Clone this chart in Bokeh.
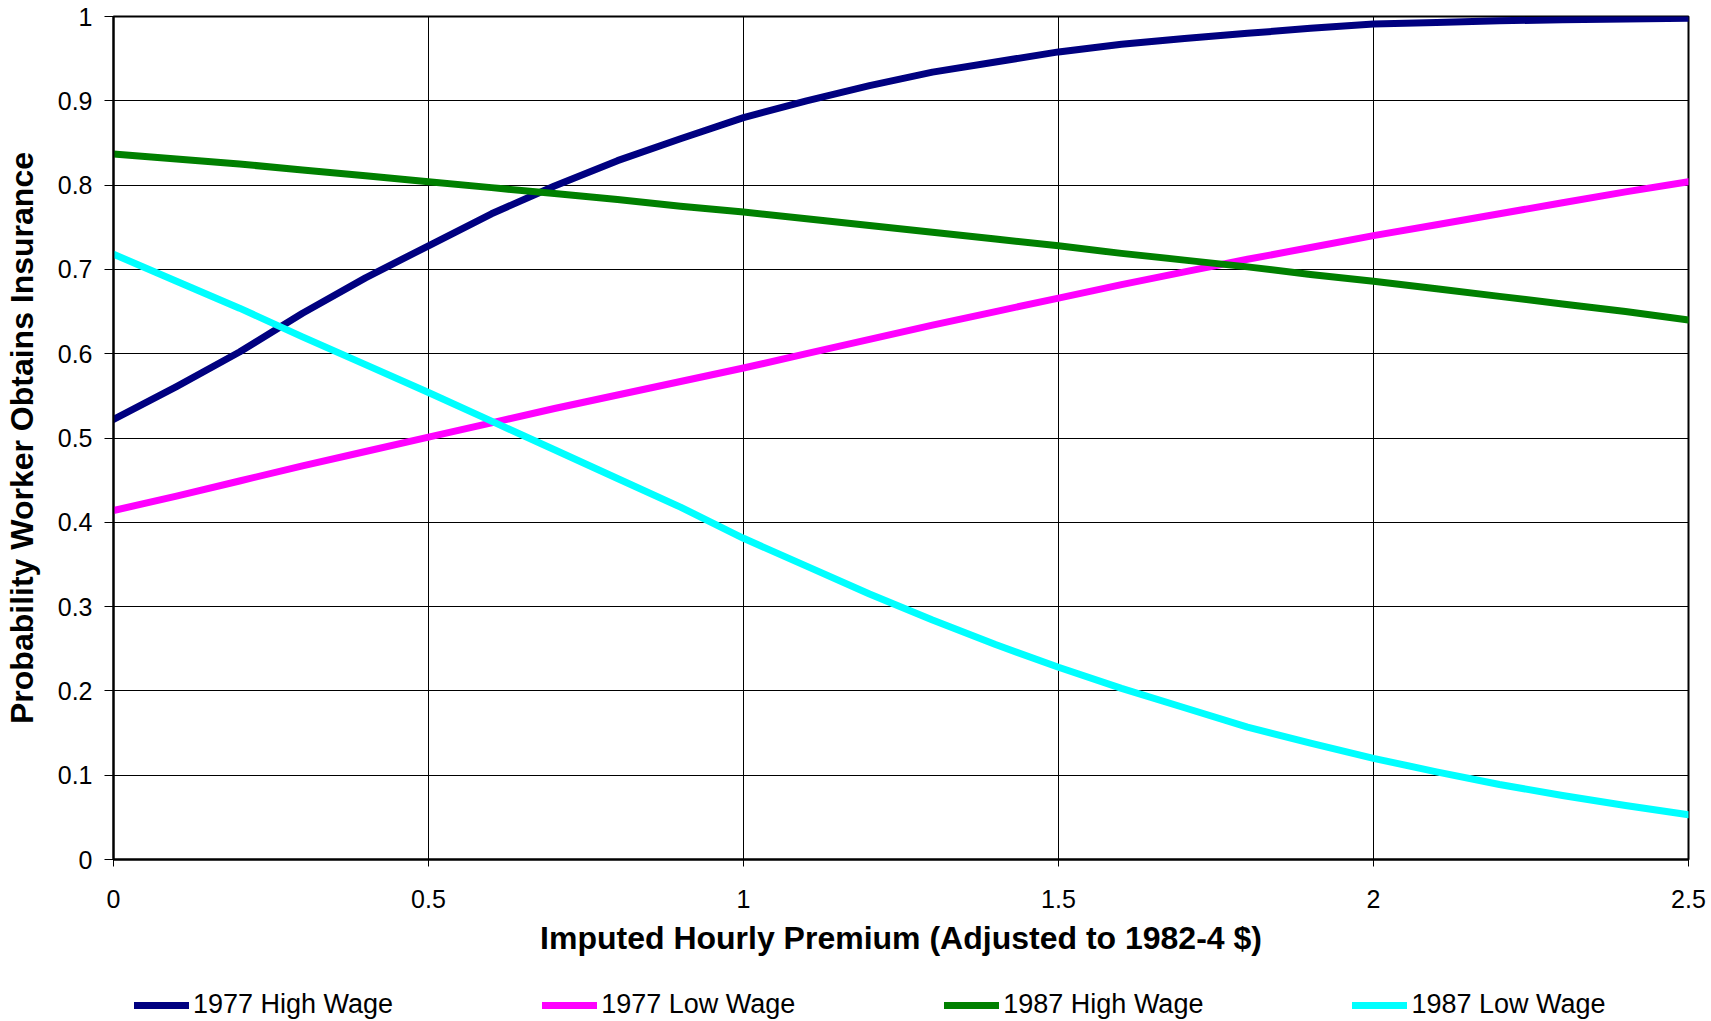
from bokeh.plotting import figure
from bokeh.layouts import column
from bokeh.models import Range1d, FixedTicker, Legend, LegendItem
from bokeh.embed import file_html
from bokeh.resources import INLINE

# ---- data ----
premium = [0.0, 0.1, 0.2, 0.3, 0.4, 0.5, 0.6, 0.7, 0.8, 0.9, 1.0, 1.1, 1.2,
           1.3, 1.4, 1.5, 1.6, 1.7, 1.8, 1.9, 2.0, 2.1, 2.2, 2.3, 2.4, 2.5]

high_wage_1977 = [0.522, 0.561, 0.602, 0.648, 0.690, 0.728, 0.766, 0.799, 0.829,
                  0.855, 0.880, 0.900, 0.918, 0.934, 0.946, 0.958, 0.967, 0.974,
                  0.980, 0.986, 0.991, 0.993, 0.995, 0.996, 0.997, 0.998]

low_wage_1977 = [0.414, 0.431, 0.449, 0.467, 0.484, 0.501, 0.518, 0.535, 0.551,
                 0.567, 0.583, 0.600, 0.617, 0.634, 0.650, 0.666, 0.682, 0.697,
                 0.712, 0.726, 0.740, 0.753, 0.766, 0.779, 0.792, 0.804]

high_wage_1987 = [0.837, 0.831, 0.825, 0.818, 0.811, 0.804, 0.797, 0.790, 0.783,
                  0.775, 0.768, 0.760, 0.752, 0.744, 0.736, 0.728, 0.719, 0.711,
                  0.703, 0.694, 0.686, 0.677, 0.668, 0.659, 0.650, 0.640]

low_wage_1987 = [0.718, 0.686, 0.654, 0.620, 0.587, 0.554, 0.520, 0.486, 0.452,
                 0.418, 0.381, 0.348, 0.315, 0.284, 0.255, 0.228, 0.203, 0.180,
                 0.157, 0.138, 0.120, 0.104, 0.089, 0.076, 0.064, 0.053]

series_names = ["1977 High Wage", "1977 Low Wage", "1987 High Wage", "1987 Low Wage"]
series_values = [high_wage_1977, low_wage_1977, high_wage_1987, low_wage_1987]
series_colors = ["#000080", "#FF00FF", "#008000", "#00FFFF"]

x_ticks = [0, 0.5, 1, 1.5, 2, 2.5]
x_tick_labels = ["0", "0.5", "1", "1.5", "2", "2.5"]
y_ticks = [0, 0.1, 0.2, 0.3, 0.4, 0.5, 0.6, 0.7, 0.8, 0.9, 1]
y_tick_labels = ["0", "0.1", "0.2", "0.3", "0.4", "0.5", "0.6", "0.7", "0.8", "0.9", "1"]

x_title = "Imputed Hourly Premium (Adjusted to 1982-4 $)"
y_title = "Probability Worker Obtains Insurance"

FONT = "Liberation Sans"
W = 1711
MAIN_H = 970
LEG_H = 51

p = figure(width=W, height=MAIN_H,
           x_range=Range1d(0, 2.5), y_range=Range1d(0, 1),
           output_backend="svg", toolbar_location=None,
           min_border_left=113, min_border_right=23,
           min_border_top=16, min_border_bottom=MAIN_H - 859,
           background_fill_color="white", border_fill_color="white")

p.outline_line_color = "black"
p.outline_line_width = 2

# grid
p.xgrid.ticker = FixedTicker(ticks=x_ticks)
p.ygrid.ticker = FixedTicker(ticks=y_ticks)
for g in (p.xgrid, p.ygrid):
    g.grid_line_color = "black"
    g.grid_line_width = 1

# axes
p.xaxis.ticker = FixedTicker(ticks=x_ticks)
p.xaxis.major_label_overrides = {t: l for t, l in zip(x_ticks, x_tick_labels)}
p.yaxis.ticker = FixedTicker(ticks=y_ticks)
p.yaxis.major_label_overrides = {t: l for t, l in zip(y_ticks, y_tick_labels)}

for ax in (p.xaxis[0], p.yaxis[0]):
    ax.axis_line_color = "black"
    ax.axis_line_width = 2
    ax.major_tick_line_color = "black"
    ax.major_tick_line_width = 1
    ax.major_tick_in = 0
    ax.minor_tick_line_color = None
    ax.major_label_text_font = FONT
    ax.major_label_text_font_size = "25px"
    ax.major_label_text_color = "black"
    ax.axis_label_text_font = FONT
    ax.axis_label_text_font_size = "32px"
    ax.axis_label_text_font_style = "bold"
    ax.axis_label_text_color = "black"

p.xaxis.axis_label = x_title
p.yaxis.axis_label = y_title
p.xaxis.major_tick_out = 7
p.yaxis.major_tick_out = 9
p.xaxis.major_label_standoff = 23
p.yaxis.major_label_standoff = 12
p.xaxis.axis_label_standoff = 9
p.yaxis.axis_label_standoff = 15

# lines
for name, vals, col in zip(series_names, series_values, series_colors):
    p.line(premium, vals, line_color=col, line_width=7,
           line_cap="round", line_join="round")

# ---- legend strip below the chart (its own lines lie outside its view) ----
lg = figure(width=W, height=LEG_H, x_range=Range1d(10, 11), y_range=Range1d(10, 11),
            output_backend="svg", toolbar_location=None,
            x_axis_location=None, y_axis_location=None,
            min_border_left=0, min_border_right=0, min_border_top=0, min_border_bottom=0,
            background_fill_color="white", border_fill_color="white")
lg.outline_line_color = None
lg.xgrid.visible = False
lg.ygrid.visible = False

key_renderers = []
for name, vals, col in zip(series_names, series_values, series_colors):
    r = lg.line(premium, vals, line_color=col, line_width=7, line_cap="round")
    key_renderers.append(r)

legend = Legend(
    items=[LegendItem(label=n, renderers=[r]) for n, r in zip(series_names, key_renderers)],
    orientation="horizontal",
    location=(21, 1),
    spacing=149,
    glyph_width=55, glyph_height=30,
    label_height=30, label_standoff=4,
    padding=0, margin=0,
    border_line_alpha=0, background_fill_alpha=0,
    label_text_font=FONT, label_text_font_size="27px",
    label_text_color="black",
)
lg.add_layout(legend, "center")

layout = column(p, lg, spacing=0)
open("out.html", "w").write(file_html(layout, INLINE))
